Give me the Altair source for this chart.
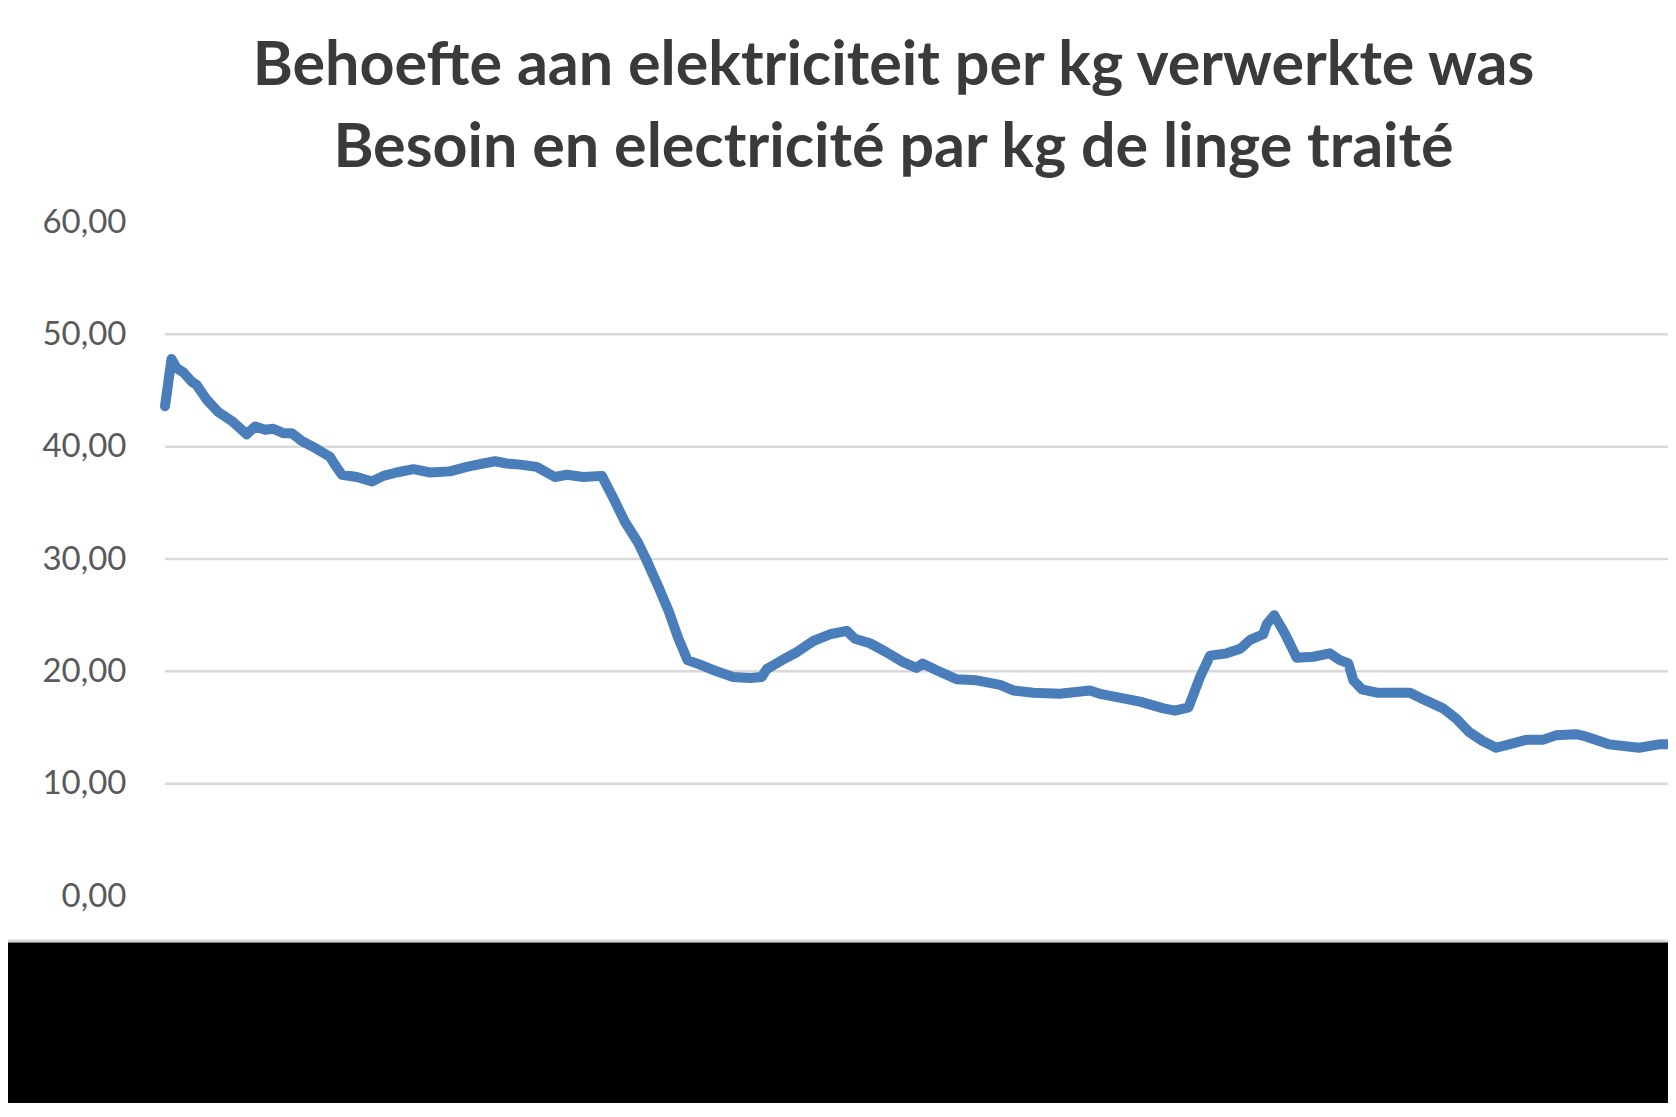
import altair as alt
import pandas as pd

title_lines = [
    "Behoefte aan elektriciteit per kg verwerkte was",
    "Besoin en electricité par kg de linge traité",
]

period = [0, 1.3, 2.3, 3.7, 5.3, 6.3, 8.3, 10.6, 13.3, 16.3, 18.0, 20.0, 21.6, 23.6,
          25.3, 27.3, 30.3, 32.9, 33.9, 35.3, 38.3, 41.3, 43.6, 46.2, 49.6, 52.9,
          56.9, 60.2, 63.5, 65.9, 68.2, 70.9, 74.2, 77.8, 80.2, 83.5, 87.2, 89.5,
          91.8, 94.5, 96.1, 98.5, 100.5, 102.4, 104.3, 106.8, 110.1, 113.4, 116.8,
          119.1, 120.1, 122.8, 126.1, 129.4, 132.7, 136.1, 137.7, 140.7, 144.0,
          147.4, 150.0, 151.2, 154.0, 158.0, 162.0, 166.7, 169.3, 173.3, 178.6,
          184.6, 186.6, 190.0, 194.6, 199.3, 201.6, 204.3, 206.6, 208.6, 211.9,
          214.6, 216.6, 219.2, 219.9, 221.4, 223.6, 225.9, 229.2, 232.5, 234.5,
          236.2, 237.2, 238.9, 241.9, 248.5, 251.2, 255.1, 257.7, 260.3, 263.0,
          265.7, 268.3, 271.7, 275.0, 277.6, 281.6, 283.6, 288.2, 294.2, 298.2, 300]

kwh_per_kg = [43.6, 47.8, 47.0, 46.6, 45.8, 45.5, 44.2, 43.1, 42.3, 41.1, 41.8, 41.5,
              41.6, 41.2, 41.2, 40.5, 39.8, 39.1, 38.4, 37.5, 37.3, 36.9, 37.4, 37.7,
              38.0, 37.7, 37.8, 38.2, 38.5, 38.7, 38.5, 38.4, 38.2, 37.3, 37.5, 37.3,
              37.4, 35.4, 33.3, 31.4, 29.9, 27.5, 25.4, 23.0, 21.0, 20.6, 20.0, 19.5,
              19.4, 19.5, 20.2, 20.9, 21.7, 22.7, 23.3, 23.6, 22.9, 22.5, 21.7, 20.8,
              20.3, 20.7, 20.1, 19.3, 19.2, 18.8, 18.3, 18.1, 18.0, 18.3, 18.0, 17.7,
              17.3, 16.7, 16.5, 16.8, 19.5, 21.4, 21.6, 22.0, 22.8, 23.3, 24.2, 25.0,
              23.3, 21.2, 21.3, 21.6, 21.0, 20.7, 19.2, 18.4, 18.1, 18.1, 17.5, 16.7,
              15.8, 14.6, 13.8, 13.2, 13.5, 13.9, 13.9, 14.3, 14.4, 14.2, 13.5, 13.2,
              13.5, 13.5]

y_ticks = [0, 10, 20, 30, 40, 50, 60]
grid_values = [10, 20, 30, 40, 50]

df = pd.DataFrame({"periode": period, "waarde": kwh_per_kg})
grid_df = pd.DataFrame({"grid": grid_values})
band_df = pd.DataFrame({"band": [0]})

yscale = alt.Scale(domain=[0, 60], nice=False, zero=True)
yaxis = alt.Axis(
    values=y_ticks,
    labelExpr="replace(format(datum.value, '.2f'), '.', ',')",
    labelFont="Lato",
    labelFontSize=33,
    labelColor="#595959",
    labelPadding=39,
    ticks=False,
    domain=False,
    grid=False,
    title=None,
)

grid = alt.Chart(grid_df).mark_rule(color="#d9d9d9", strokeWidth=2.5).encode(
    y=alt.Y("grid:Q", scale=yscale, axis=yaxis)
)

line = alt.Chart(df).mark_line(
    color="#4a7ebb", strokeWidth=10, strokeJoin="round", strokeCap="round"
).encode(
    x=alt.X("periode:Q", scale=alt.Scale(domain=[0, 300], nice=False, zero=False), axis=None),
    y=alt.Y("waarde:Q", scale=yscale, axis=yaxis),
)

edge = alt.Chart(band_df).mark_rule(color="#d9d9d9", strokeWidth=3, clip=False).encode(
    x=alt.value(-200), x2=alt.value(1700), y=alt.value(719)
)
band = alt.Chart(band_df).mark_rect(color="#000000", clip=False).encode(
    x=alt.value(-200), x2=alt.value(1700), y=alt.value(720.5), y2=alt.value(1100)
)

chart = alt.layer(grid, line, edge, band).properties(
    width=1503,
    height=674,
    background="#ffffff",
    autosize=alt.AutoSizeParams(type="none"),
    padding={"left": 157, "top": 214, "right": 0, "bottom": 207},
    title=alt.TitleParams(
        text=title_lines,
        font="Lato",
        fontSize=61,
        fontWeight="bold",
        color="#3a3a3a",
        lineHeight=82,
        anchor="middle",
        frame="group",
        dx=-23,
        offset=26,
    ),
).configure_view(strokeWidth=0, stroke="transparent")

chart.save("out.html", embed_options={"renderer": "svg", "actions": False})
